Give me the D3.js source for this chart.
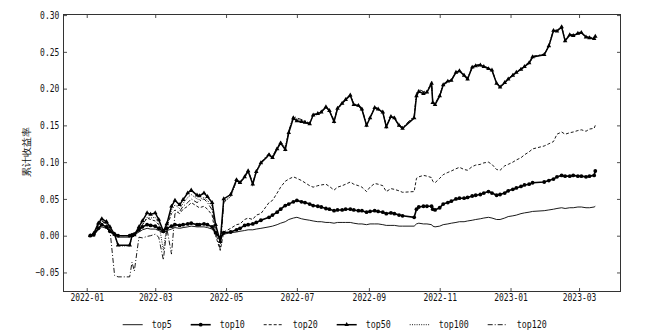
<!DOCTYPE html>
<html>
<head>
<meta charset="utf-8">
<script src="https://cdn.jsdelivr.net/npm/d3@7"></script>
<style>
  body { margin: 0; background: #fff; }
  text { font-family: "DejaVu Sans Mono", monospace; fill: #111; }
</style>
</head>
<body>
<div id="chart"></div>
<script>
// trading dates (sampled twice a week)
var dates = [
  '2022-01-04','2022-01-07','2022-01-11','2022-01-14','2022-01-18','2022-01-21','2022-01-25','2022-01-28',
  '2022-02-07','2022-02-09','2022-02-11','2022-02-15','2022-02-18','2022-02-22','2022-02-25',
  '2022-03-01','2022-03-04','2022-03-08','2022-03-11','2022-03-15','2022-03-18','2022-03-22','2022-03-25','2022-03-29',
  '2022-04-01','2022-04-06','2022-04-08','2022-04-12','2022-04-15','2022-04-19','2022-04-22','2022-04-26','2022-04-29',
  '2022-05-05','2022-05-10','2022-05-13','2022-05-17','2022-05-20','2022-05-24','2022-05-27','2022-05-31',
  '2022-06-07','2022-06-10','2022-06-14','2022-06-17','2022-06-21','2022-06-24','2022-06-28',
  '2022-07-01','2022-07-05','2022-07-08','2022-07-12','2022-07-15','2022-07-19','2022-07-22','2022-07-26','2022-07-29',
  '2022-08-02','2022-08-05','2022-08-09','2022-08-12','2022-08-16','2022-08-19','2022-08-23','2022-08-26','2022-08-30',
  '2022-09-02','2022-09-06','2022-09-09','2022-09-13','2022-09-16','2022-09-20','2022-09-23','2022-09-27','2022-09-30',
  '2022-10-10','2022-10-12','2022-10-14','2022-10-18','2022-10-21','2022-10-25','2022-10-26','2022-10-28',
  '2022-11-01','2022-11-04','2022-11-08','2022-11-11','2022-11-15','2022-11-18','2022-11-22','2022-11-25','2022-11-29',
  '2022-12-02','2022-12-06','2022-12-09','2022-12-13','2022-12-16','2022-12-20','2022-12-23','2022-12-27','2022-12-30',
  '2023-01-03','2023-01-06','2023-01-10','2023-01-13','2023-01-17','2023-01-20','2023-01-30',
  '2023-02-03','2023-02-07','2023-02-10','2023-02-14','2023-02-17','2023-02-21','2023-02-24','2023-02-28',
  '2023-03-03','2023-03-07','2023-03-10','2023-03-14','2023-03-15'
];

var top5 = [
  0.000, 0.001, 0.008, 0.012, 0.010, 0.005, 0.001, -0.002,
  -0.002, 0.000, 0.001, 0.005, 0.008, 0.010, 0.009,
  0.009, 0.007, 0.004, 0.007, 0.009, 0.011, 0.010, 0.011, 0.012,
  0.013, 0.012, 0.012, 0.012, 0.011, 0.009, 0.003, -0.003, 0.002,
  0.004, 0.005, 0.006, 0.007, 0.008, 0.008, 0.009, 0.010,
  0.012, 0.013, 0.015, 0.017, 0.019, 0.022, 0.024,
  0.025, 0.023, 0.022, 0.021, 0.020, 0.019, 0.019, 0.018, 0.018,
  0.017, 0.018, 0.018, 0.018, 0.018, 0.017, 0.016, 0.016, 0.015,
  0.016, 0.016, 0.016, 0.015, 0.014, 0.014, 0.014, 0.013, 0.013,
  0.013, 0.016, 0.017, 0.016, 0.016, 0.015, 0.013, 0.012,
  0.013, 0.015, 0.016, 0.017, 0.018, 0.019, 0.019, 0.020, 0.021,
  0.022, 0.023, 0.024, 0.025, 0.024, 0.022, 0.022, 0.024, 0.026,
  0.027, 0.028, 0.030, 0.031, 0.032, 0.033, 0.034,
  0.035, 0.036, 0.037, 0.038, 0.037, 0.038, 0.038, 0.039,
  0.039, 0.038, 0.038, 0.039, 0.040
];

var top10 = [
  0.000, 0.001, 0.010, 0.015, 0.012, 0.006, 0.002, 0.000,
  0.000, 0.001, 0.002, 0.008, 0.012, 0.015, 0.014,
  0.013, 0.010, 0.006, 0.010, 0.013, 0.015, 0.014, 0.015, 0.016,
  0.017, 0.015, 0.015, 0.016, 0.015, 0.012, 0.004, -0.003, 0.004,
  0.005, 0.008, 0.010, 0.014, 0.015, 0.016, 0.018, 0.021,
  0.025, 0.028, 0.032, 0.036, 0.041, 0.043, 0.046,
  0.048, 0.046, 0.045, 0.043, 0.041, 0.040, 0.039, 0.037, 0.036,
  0.034, 0.035, 0.035, 0.036, 0.036, 0.035, 0.034, 0.034, 0.032,
  0.033, 0.034, 0.033, 0.032, 0.030, 0.031, 0.030, 0.028, 0.027,
  0.025, 0.036, 0.039, 0.040, 0.040, 0.040, 0.036, 0.035,
  0.038, 0.043, 0.045, 0.047, 0.050, 0.051, 0.051, 0.052, 0.054,
  0.055, 0.056, 0.058, 0.060, 0.058, 0.055, 0.056, 0.058, 0.061,
  0.063, 0.065, 0.067, 0.069, 0.070, 0.072, 0.073,
  0.075, 0.077, 0.080, 0.082, 0.081, 0.081, 0.082, 0.081,
  0.081, 0.080, 0.081, 0.082, 0.088
];

var top20 = [
  0.000, 0.002, 0.014, 0.020, 0.015, 0.008, 0.002, 0.000,
  0.000, 0.000, 0.002, 0.010, 0.015, 0.024, 0.022,
  0.020, 0.015, 0.005, 0.012, 0.030, 0.035, 0.030, 0.036, 0.040,
  0.045, 0.040, 0.038, 0.040, 0.036, 0.028, 0.000, -0.020, 0.005,
  0.010, 0.015, 0.016, 0.022, 0.024, 0.022, 0.028, 0.030,
  0.045, 0.048, 0.058, 0.066, 0.074, 0.077, 0.080,
  0.078, 0.075, 0.072, 0.068, 0.066, 0.068, 0.069, 0.070, 0.067,
  0.062, 0.066, 0.068, 0.070, 0.073, 0.070, 0.068, 0.066, 0.060,
  0.066, 0.071, 0.070, 0.068, 0.060, 0.064, 0.063, 0.061, 0.059,
  0.060, 0.078, 0.080, 0.082, 0.081, 0.079, 0.074, 0.072,
  0.078, 0.083, 0.086, 0.088, 0.091, 0.093, 0.090, 0.089, 0.094,
  0.096, 0.097, 0.099, 0.100, 0.097, 0.090, 0.089, 0.095, 0.097,
  0.100, 0.103, 0.106, 0.110, 0.114, 0.118, 0.122,
  0.125, 0.128, 0.138, 0.141, 0.138, 0.140, 0.141, 0.143,
  0.144, 0.142, 0.145, 0.146, 0.150
];

var top50 = [
  0.000, 0.003, 0.017, 0.023, 0.019, 0.012, 0.002, -0.013,
  -0.013, 0.000, 0.001, 0.012, 0.020, 0.031, 0.029,
  0.031, 0.022, 0.006, 0.016, 0.040, 0.048, 0.042, 0.049, 0.058,
  0.062, 0.055, 0.054, 0.058, 0.053, 0.045, 0.015, -0.008, 0.050,
  0.056, 0.076, 0.072, 0.080, 0.088, 0.070, 0.087, 0.099,
  0.110, 0.106, 0.118, 0.126, 0.117, 0.140, 0.160,
  0.156, 0.155, 0.154, 0.152, 0.164, 0.166, 0.168, 0.175, 0.170,
  0.155, 0.173, 0.180, 0.185, 0.191, 0.178, 0.177, 0.172, 0.150,
  0.160, 0.174, 0.172, 0.168, 0.148, 0.162, 0.160, 0.150, 0.146,
  0.160, 0.190, 0.196, 0.193, 0.195, 0.207, 0.181, 0.178,
  0.190, 0.205, 0.210, 0.211, 0.222, 0.224, 0.218, 0.213, 0.229,
  0.231, 0.232, 0.230, 0.227, 0.225, 0.207, 0.202, 0.208, 0.213,
  0.218, 0.222, 0.226, 0.230, 0.235, 0.243, 0.246,
  0.258, 0.279, 0.278, 0.284, 0.265, 0.273, 0.272, 0.275,
  0.276, 0.270, 0.269, 0.268, 0.271
];

var top100 = [
  0.000, 0.002, 0.015, 0.021, 0.017, 0.010, 0.001, -0.014,
  -0.014, -0.002, 0.000, 0.008, 0.015, 0.025, 0.024,
  0.025, 0.018, -0.020, 0.012, 0.035, 0.042, 0.037, 0.044, 0.052,
  0.056, 0.050, 0.049, 0.052, 0.048, 0.040, 0.012, -0.010, 0.046,
  0.053, 0.074, 0.071, 0.079, 0.087, 0.071, 0.086, 0.098,
  0.109, 0.107, 0.119, 0.128, 0.120, 0.143, 0.162,
  0.158, 0.157, 0.155, 0.153, 0.163, 0.165, 0.167, 0.174, 0.169,
  0.156, 0.172, 0.179, 0.184, 0.190, 0.179, 0.176, 0.171, 0.151,
  0.159, 0.173, 0.171, 0.167, 0.149, 0.161, 0.159, 0.149, 0.145,
  0.162, 0.192, 0.198, 0.195, 0.196, 0.205, 0.182, 0.179,
  0.189, 0.204, 0.209, 0.212, 0.221, 0.223, 0.219, 0.214, 0.228,
  0.230, 0.231, 0.231, 0.228, 0.224, 0.208, 0.203, 0.207, 0.212,
  0.219, 0.221, 0.227, 0.231, 0.234, 0.242, 0.247,
  0.257, 0.278, 0.279, 0.283, 0.266, 0.272, 0.273, 0.274,
  0.275, 0.271, 0.268, 0.269, 0.270
];

var top120 = [
  0.000, 0.002, 0.014, 0.020, 0.016, 0.008, -0.054, -0.056,
  -0.056, -0.036, -0.048, -0.002, -0.003, -0.001, 0.000,
  0.002, -0.002, -0.033, 0.010, -0.025, 0.030, 0.033, 0.040, 0.045,
  0.050, 0.045, 0.047, 0.050, 0.045, 0.035, 0.005, -0.018, 0.045,
  0.054, 0.075, 0.073, 0.081, 0.089, 0.072, 0.088, 0.100,
  0.112, 0.108, 0.120, 0.127, 0.119, 0.142, 0.163,
  0.160, 0.158, 0.156, 0.153, 0.165, 0.167, 0.169, 0.176, 0.171,
  0.157, 0.174, 0.181, 0.186, 0.192, 0.179, 0.178, 0.173, 0.151,
  0.161, 0.175, 0.173, 0.169, 0.149, 0.163, 0.161, 0.151, 0.147,
  0.163, 0.194, 0.199, 0.196, 0.197, 0.208, 0.183, 0.180,
  0.191, 0.206, 0.211, 0.212, 0.223, 0.225, 0.219, 0.214, 0.230,
  0.232, 0.233, 0.231, 0.228, 0.226, 0.208, 0.203, 0.209, 0.214,
  0.219, 0.223, 0.227, 0.231, 0.236, 0.244, 0.247,
  0.259, 0.280, 0.279, 0.285, 0.266, 0.274, 0.273, 0.276,
  0.277, 0.271, 0.270, 0.269, 0.272
];

var seriesNames = ['top5', 'top10', 'top20', 'top50', 'top100', 'top120'];
var seriesValues = [top5, top10, top20, top50, top100, top120];
var yTicks = [-0.05, 0.00, 0.05, 0.10, 0.15, 0.20, 0.25, 0.30];
var yLabel = '累计收益率';

// line styles, matplotlib like
var styles = {
  top5:   { width: 0.9, dash: null,      marker: null },
  top10:  { width: 1.6, dash: null,      marker: 'circle' },
  top20:  { width: 0.9, dash: '3,2',     marker: null },
  top50:  { width: 1.5, dash: null,      marker: 'triangle' },
  top100: { width: 0.9, dash: '1,1.3',   marker: null },
  top120: { width: 0.9, dash: '5,2,1,2', marker: null }
};

var Chart = function () {
  var self = this;

  // canvas size
  var xcanvas = 654;
  var ycanvas = 335;
  // plot box
  var pl = 63.5, pr = 620.5, pt = 14.5, pb = 291.5;

  var svg = d3.select('#chart').append('svg')
    .attr('width', xcanvas)
    .attr('height', ycanvas);

  var parse = d3.timeParse('%Y-%m-%d');
  var xs = d3.scaleTime()
    .domain([new Date(2021, 11, 12), new Date(2023, 3, 5, 17)])
    .range([pl, pr]);
  var ys = d3.scaleLinear()
    .domain([-0.0759, 0.3008])
    .range([pb, pt]);

  // squeeze mono glyphs to a half width look
  var squeeze = function (sel, w) {
    sel.attr('textLength', function () { return this.textContent.length * w; })
      .attr('lengthAdjust', 'spacingAndGlyphs');
  };

  var styleAxis = function (g) {
    g.select('.domain').remove();
    g.selectAll('line').attr('stroke', '#222').attr('stroke-width', 0.8);
    g.selectAll('text').attr('font-size', '10px')
      .attr('font-family', '"DejaVu Sans Mono", monospace').attr('fill', '#111');
  };

  var xTicks = xs.ticks(d3.timeMonth.every(2));

  self.draw = function () {
    // axes, ticks inward on all four sides
    var gx = svg.append('g').attr('transform', 'translate(0,' + pb + ')')
      .call(d3.axisBottom(xs).tickValues(xTicks).tickFormat(d3.timeFormat('%Y-%m'))
        .tickSizeInner(-3.5).tickSizeOuter(0).tickPadding(2.5));
    styleAxis(gx);
    squeeze(gx.selectAll('text'), 4.8);

    var gxt = svg.append('g').attr('transform', 'translate(0,' + pt + ')')
      .call(d3.axisTop(xs).tickValues(xTicks).tickFormat('')
        .tickSizeInner(-3.5).tickSizeOuter(0));
    styleAxis(gxt);

    var gy = svg.append('g').attr('transform', 'translate(' + pl + ',0)')
      .call(d3.axisLeft(ys).tickValues(yTicks).tickFormat(d3.format('.2f'))
        .tickSizeInner(-3.5).tickSizeOuter(0).tickPadding(4.2));
    styleAxis(gy);
    squeeze(gy.selectAll('text'), 4.8);

    var gyr = svg.append('g').attr('transform', 'translate(' + pr + ',0)')
      .call(d3.axisRight(ys).tickValues(yTicks).tickFormat('')
        .tickSizeInner(-3.5).tickSizeOuter(0));
    styleAxis(gyr);

    // frame
    svg.append('rect')
      .attr('x', pl).attr('y', pt)
      .attr('width', pr - pl).attr('height', pb - pt)
      .attr('fill', 'none').attr('stroke', '#333').attr('stroke-width', 1);

    svg.append('text')
      .text(yLabel)
      .attr('transform', 'translate(26,152) rotate(-90)')
      .attr('text-anchor', 'middle')
      .attr('dominant-baseline', 'central')
      .attr('font-family', '"Noto Sans CJK SC", sans-serif')
      .attr('font-size', '10px');

    svg.append('clipPath').attr('id', 'clip')
      .append('rect').attr('x', pl).attr('y', pt)
      .attr('width', pr - pl).attr('height', pb - pt);

    var plot = svg.append('g').attr('clip-path', 'url(#clip)');
    var line = d3.line()
      .x(function (d) { return xs(d.date); })
      .y(function (d) { return ys(d.v); });
    var tri = d3.symbol().type(d3.symbolTriangle).size(9);

    seriesNames.forEach(function (name, i) {
      var st = styles[name];
      var data = dates.map(function (s, k) { return { date: parse(s), v: seriesValues[i][k] }; });
      plot.append('path').datum(data)
        .attr('d', line)
        .attr('fill', 'none')
        .attr('stroke', '#000')
        .attr('stroke-width', st.width)
        .attr('stroke-dasharray', st.dash);
      if (st.marker == 'circle') {
        plot.selectAll('circle.' + name).data(data).enter().append('circle')
          .attr('class', name)
          .attr('cx', function (d) { return xs(d.date); })
          .attr('cy', function (d) { return ys(d.v); })
          .attr('r', 1.9)
          .attr('fill', '#000');
      } else if (st.marker == 'triangle') {
        plot.selectAll('path.' + name).data(data).enter().append('path')
          .attr('class', name)
          .attr('d', tri)
          .attr('transform', function (d) { return 'translate(' + xs(d.date) + ',' + ys(d.v) + ')'; })
          .attr('fill', '#000');
      }
    });

    // legend under the plot
    var ly = 324.7;
    var widths = seriesNames.map(function (n) { return 20 + 9 + n.length * 5 + 19; });
    var total = d3.sum(widths) - 19;
    var lx = 334.7 - total / 2;
    var lg = svg.append('g');
    seriesNames.forEach(function (name, i) {
      var st = styles[name];
      lg.append('line')
        .attr('x1', lx).attr('x2', lx + 20).attr('y1', ly).attr('y2', ly)
        .attr('stroke', '#000')
        .attr('stroke-width', st.width)
        .attr('stroke-dasharray', st.dash);
      if (st.marker == 'circle') {
        lg.append('circle').attr('cx', lx + 10).attr('cy', ly).attr('r', 1.9).attr('fill', '#000');
      } else if (st.marker == 'triangle') {
        lg.append('path').attr('d', tri).attr('transform', 'translate(' + (lx + 10) + ',' + ly + ')').attr('fill', '#000');
      }
      var t = lg.append('text')
        .text(name)
        .attr('x', lx + 29).attr('y', ly)
        .attr('dominant-baseline', 'central')
        .attr('font-size', '10px');
      squeeze(t, 5);
      lx += widths[i];
    });
  };
};

var chart = new Chart();
chart.draw();
</script>
</body>
</html>
